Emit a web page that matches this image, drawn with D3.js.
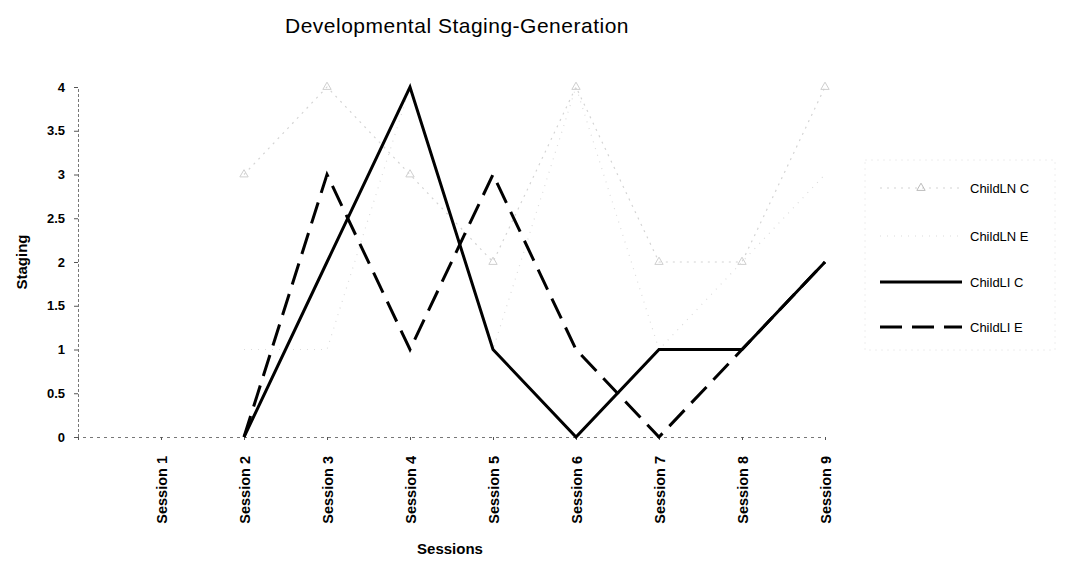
<!DOCTYPE html>
<html>
<head>
<meta charset="utf-8">
<script src="https://cdn.jsdelivr.net/npm/d3@7"></script>
<style>
  body { margin: 0; background: #fff; }
  svg { display: block; }
  text { font-family: "Liberation Sans", Arial, sans-serif; fill: #000; }
</style>
</head>
<body>
<svg id="chart" width="1067" height="562"></svg>
<script>
// ---- data ----
const categories = ["", "Session 1", "Session 2", "Session 3", "Session 4", "Session 5", "Session 6", "Session 7", "Session 8", "Session 9"];
const childLN_C = [null, null, 3, 4, 3, 2, 4, 2, 2, 4];
const childLN_E = [null, null, 1, 1, 4, 1, 4, 1, 2, 3];
const childLI_C = [null, null, 0, 2, 4, 1, 0, 1, 1, 2];
const childLI_E = [null, null, 0, 3, 1, 3, 1, 0, 1, 2];
const seriesNames = ["ChildLN C", "ChildLN E", "ChildLI C", "ChildLI E"];
const yTicks = [0, 0.5, 1, 1.5, 2, 2.5, 3, 3.5, 4];
const titleText = "Developmental Staging-Generation";
const xTitle = "Sessions";
const yTitle = "Staging";

// ---- styles ----
const styles = [
  { stroke: "#d4d4d4", width: 1.2, dash: "2,5", marker: true },
  { stroke: "#dcdcdc", width: 1.2, dash: "1,6", marker: false },
  { stroke: "#000", width: 3, dash: null, marker: false },
  { stroke: "#000", width: 3, dash: "22,10", marker: false }
];
const allSeries = [childLN_C, childLN_E, childLI_C, childLI_E];

const svg = d3.select("#chart");

const x = d3.scalePoint().domain(categories.map((d, i) => i)).range([78, 825]);
const y = d3.scaleLinear().domain([0, 4]).range([437, 87]);

// title
svg.append("text")
  .attr("x", 457).attr("y", 33)
  .attr("text-anchor", "middle")
  .style("font-size", "21px")
  .style("letter-spacing", "0.5px")
  .text(titleText);

// y axis
const yAxis = d3.axisLeft(y).tickValues(yTicks).tickSize(4).tickPadding(9)
  .tickFormat(d => String(d));
const gy = svg.append("g").attr("transform", "translate(78,0)").call(yAxis);
gy.select(".domain").attr("stroke", "#777").attr("stroke-dasharray", "3,2");
gy.selectAll(".tick line").attr("stroke", "#555");
gy.selectAll(".tick text").style("font-size", "13px").style("font-weight", "bold").attr("fill", "#000");

// x axis
const xAxis = d3.axisBottom(x).tickSize(3).tickFormat(i => categories[i]);
const gx = svg.append("g").attr("transform", "translate(0,437)").call(xAxis);
gx.select(".domain").attr("stroke", "#777").attr("stroke-dasharray", "3,4");
gx.selectAll(".tick line").attr("stroke", "#555");
gx.selectAll(".tick text")
  .style("font-size", "14.5px").style("font-weight", "bold")
  .attr("fill", "#000")
  .attr("text-anchor", "end")
  .attr("transform", "rotate(-90)")
  .attr("x", -19).attr("y", 0).attr("dy", "0.35em");

// axis titles
svg.append("text")
  .attr("x", 450).attr("y", 554)
  .attr("text-anchor", "middle")
  .style("font-size", "15px").style("font-weight", "bold")
  .text(xTitle);
svg.append("text")
  .attr("transform", "translate(27,262) rotate(-90)")
  .attr("text-anchor", "middle")
  .style("font-size", "15px").style("font-weight", "bold")
  .text(yTitle);

// lines
const line = d3.line()
  .defined(d => d[1] != null)
  .x(d => x(d[0]))
  .y(d => y(d[1]));

allSeries.forEach((vals, k) => {
  const st = styles[k];
  const pts = vals.map((v, i) => [i, v]);
  svg.append("path")
    .datum(pts)
    .attr("fill", "none")
    .attr("stroke", st.stroke)
    .attr("stroke-width", st.width)
    .attr("stroke-dasharray", st.dash)
    .attr("stroke-linejoin", "miter")
    .attr("d", line);
  if (st.marker) {
    svg.append("g").selectAll("path")
      .data(pts.filter(d => d[1] != null))
      .join("path")
      .attr("transform", d => `translate(${x(d[0])},${y(d[1])})`)
      .attr("d", d3.symbol(d3.symbolTriangle, 30)())
      .attr("fill", "none")
      .attr("stroke", "#cfcfcf")
      .attr("stroke-width", 1);
  }
});

// legend
const legend = svg.append("g");
legend.append("rect")
  .attr("x", 865).attr("y", 160).attr("width", 190).attr("height", 190)
  .attr("fill", "none").attr("stroke", "#eeeeee").attr("stroke-dasharray", "2,4");
const legY = [188, 236, 282, 327];
seriesNames.forEach((name, k) => {
  const st = styles[k];
  legend.append("line")
    .attr("x1", 880).attr("x2", 962)
    .attr("y1", legY[k]).attr("y2", legY[k])
    .attr("stroke", st.stroke)
    .attr("stroke-width", st.width)
    .attr("stroke-dasharray", st.dash);
  if (st.marker) {
    legend.append("path")
      .attr("transform", `translate(921,${legY[k]})`)
      .attr("d", d3.symbol(d3.symbolTriangle, 30)())
      .attr("fill", "none").attr("stroke", "#bbb");
  }
  legend.append("text")
    .attr("x", 970).attr("y", legY[k]).attr("dy", "0.35em")
    .style("font-size", "13px")
    .text(name);
});
</script>
</body>
</html>
